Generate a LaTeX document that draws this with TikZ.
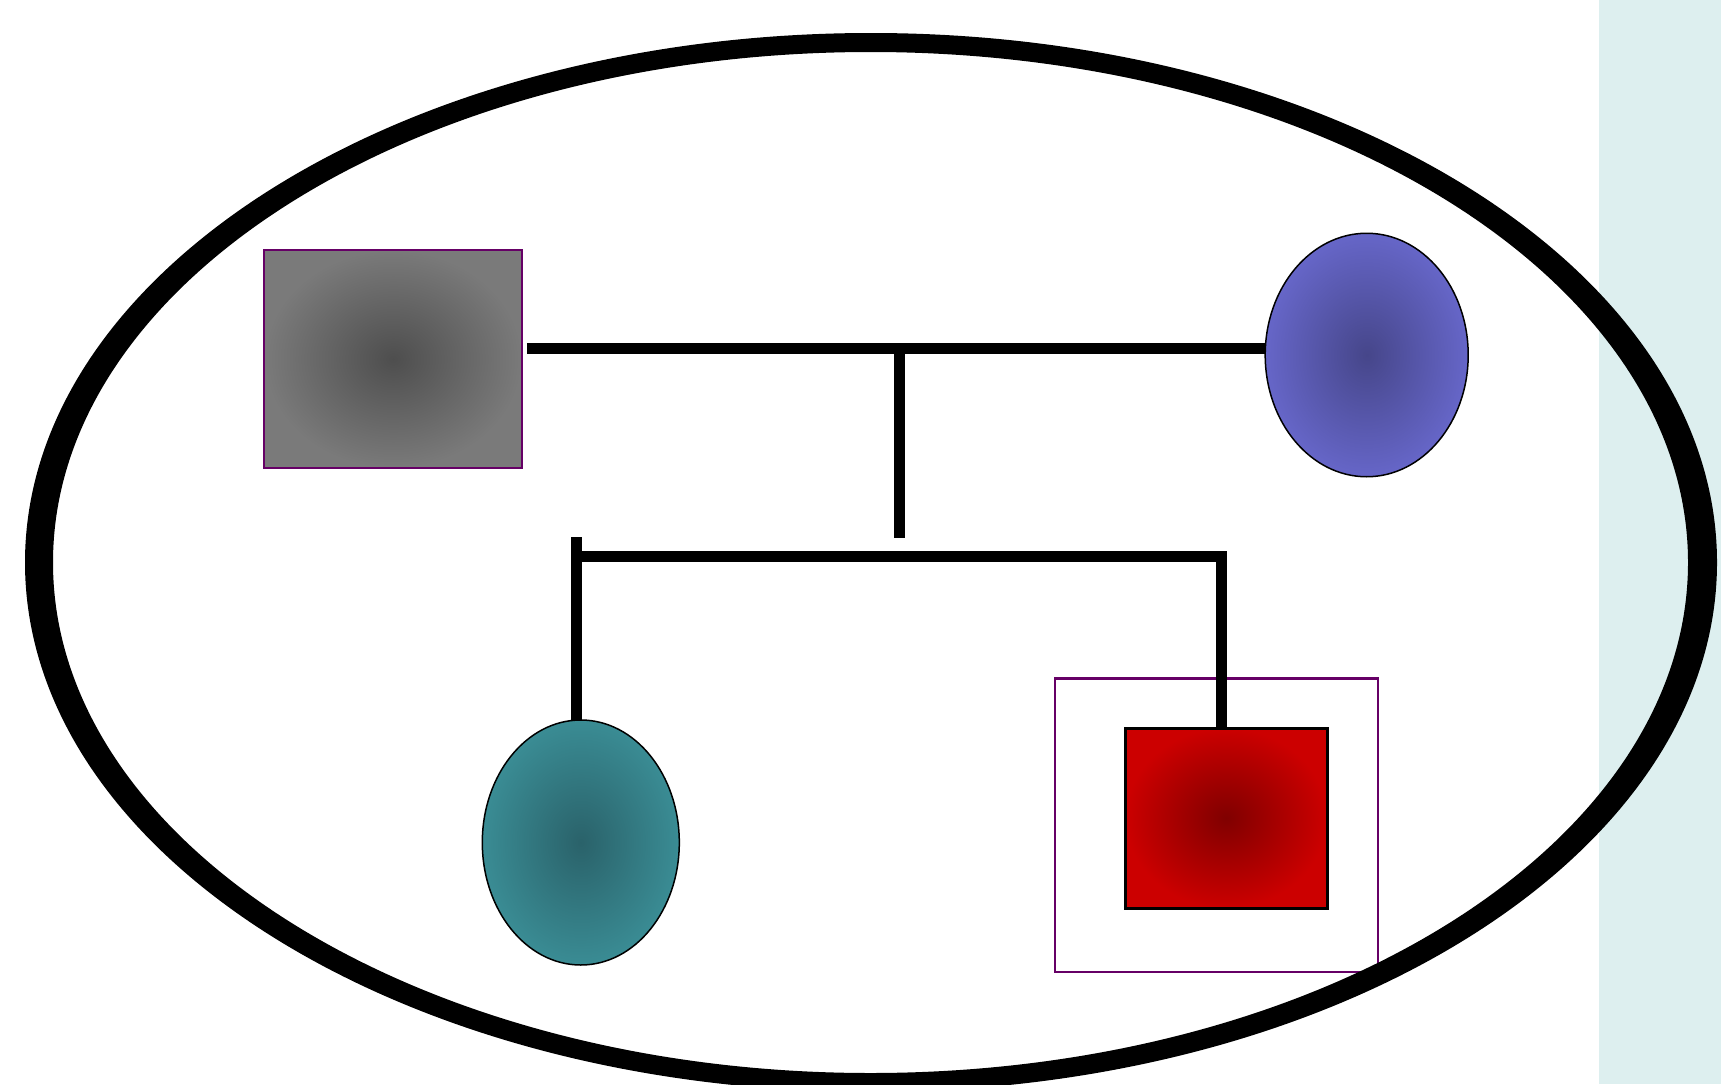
\documentclass[tikz,border=0pt]{standalone}
\usepackage{tikz}
\usetikzlibrary{positioning,shapes.geometric,calc}

\definecolor{stripbg}{HTML}{DDEFEF}
\definecolor{framepurple}{HTML}{660066}

\begin{document}
\begin{tikzpicture}[x=1pt,y=-1pt,
    person/.style={inner sep=0pt,outer sep=0pt,shading=radial},
    male/.style={person,rectangle},
    female/.style={person,ellipse,draw=black,line width=1.5pt},
    conn/.style={draw=black,line width=11pt,line cap=butt},
    proframe/.style={draw=framepurple,line width=2.5pt,inner sep=0pt,minimum width=323pt,minimum height=293.5pt}]
  \useasboundingbox (0,0) rectangle (1721,1084);
  \fill[stripbg] (1599,0) rectangle (1721,1084);
  % parents
  \node[male,draw=framepurple,line width=2pt,minimum width=257.5pt,minimum height=218pt,
        inner color={rgb,255:red,78;green,78;blue,78},outer color={rgb,255:red,122;green,122;blue,122}]
        (father) at (393,359) {};
  \node[female,minimum width=203pt,minimum height=243.5pt,
        inner color={rgb,255:red,70;green,70;blue,138},outer color={rgb,255:red,102;green,102;blue,200}]
        (mother) at (1366.7,355) {};
  % children
  \node[female,minimum width=197pt,minimum height=245pt,
        inner color={rgb,255:red,42;green,98;blue,106},outer color={rgb,255:red,58;green,140;blue,148}]
        (daughter) at (580.8,842.5) {};
  \node[proframe] (proband) at (1216.7,825) {};
  \node[male,draw=black,line width=3pt,minimum width=202pt,minimum height=180pt,
        inner color={rgb,255:red,128;green,0;blue,0},outer color={rgb,255:red,204;green,0;blue,0}]
        (son) at (1226,818) {};
  % lines
  \coordinate (mate) at (899.5,348);
  \coordinate (drop) at (899.5,538);
  \coordinate (sibTop) at (576,537);
  \coordinate (sibL) at (576,556.3);
  \coordinate (sibR) at (1221.7,556.3);
  \path[conn,shorten <=5pt] (father.east |- mate) -- (mother.west |- mate);
  \path[conn] (mate) -- (drop);
  \path[conn] (sibTop) -- (sibTop |- daughter.north);
  \path[conn,line join=miter] (sibL) -- (sibR) -- (sibR |- son.north);
  % border
  \fill[black,even odd rule] (871,562.5) ellipse [x radius=846,y radius=529.5]
                             (870.5,562.5) ellipse [x radius=817.5,y radius=510.5];
\end{tikzpicture}
\end{document}
